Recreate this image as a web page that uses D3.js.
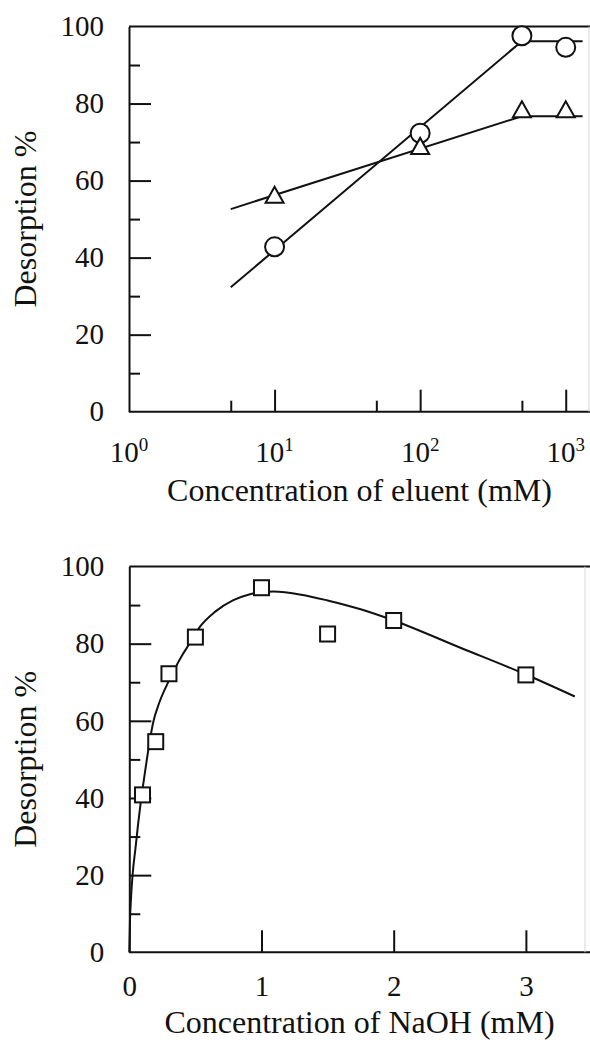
<!DOCTYPE html>
<html lang="en">
<head>
<meta charset="utf-8">
<title>Desorption</title>
<script src="https://d3js.org/d3.v7.min.js"></script>
<style>
  body { margin: 0; background: #fff; }
  #chart text { font-family: "Liberation Serif", "Times New Roman", serif; fill: #111; }
</style>
</head>
<body>
<div id="chart"></div>
<script>
"use strict"

// top panel - desorption vs concentration of eluent (log scale)
var circleX = [10, 100, 500, 1000];
var circleY = [42.8, 72.3, 97.6, 94.6];
var triangleX = [10, 100, 500, 1000];
var triangleY = [56.3, 69, 78.5, 78.5];
var circleFitX = [5, 500, 1306];
var circleFitY = [32.3, 96.2, 96.2];
var triangleFitX = [5, 500, 1306];
var triangleFitY = [52.6, 76.7, 76.7];
var logMajorTicks = [10, 100, 1000];
var logMinorTicks = [5, 50, 500];
var logLabelExponents = [0, 1, 2, 3];

// bottom panel - desorption vs concentration of NaOH
var squareX = [0.1, 0.2, 0.3, 0.5, 1, 1.5, 2, 3];
var squareY = [40.8, 54.6, 72.2, 81.7, 94.5, 82.5, 86.0, 71.9];
var curveX = [0, 0.005, 0.013, 0.05, 0.086, 0.12, 0.151, 0.18, 0.23, 0.3, 0.4, 0.45, 0.535, 0.65, 0.787, 0.9, 1.0, 1.09, 1.3, 1.5, 1.75, 2.0, 2.5, 3.0, 3.37];
var curveY = [0, 8, 14, 28, 38.7, 47, 54, 59.5, 65, 70.4, 77, 79.7, 84.4, 88.3, 91.3, 92.7, 93.3, 93.5, 92.7, 91.2, 88.9, 86.0, 79.0, 72.0, 66.3];
var naohMajorTicks = [1, 2, 3];
var naohLabels = [0, 1, 2, 3];

// shared y axis
var yMajorTicks = [20, 40, 60, 80];
var yMinorTicks = [10, 30, 50, 70, 90];
var yLabels = [0, 20, 40, 60, 80, 100];

var W = 590, H = 1040;
var ink = "#111";

var svg = d3.select("#chart").append("svg")
  .attr("width", W)
  .attr("height", H);

function zip(xs, ys) { return xs.map(function (v, i) { return [v, ys[i]]; }); }

// y axis: ticks inward + labels + title
function drawYAxis(g, y, xLeft, titleY) {
  g.append("g")
    .attr("transform", "translate(" + xLeft + ",0)")
    .call(d3.axisRight(y).tickValues(yMajorTicks).tickSize(22).tickSizeOuter(0).tickFormat(""))
    .call(function (a) { a.selectAll("line, path").attr("stroke", ink).attr("stroke-width", 2); });
  g.append("g")
    .attr("transform", "translate(" + xLeft + ",0)")
    .call(d3.axisRight(y).tickValues(yMinorTicks).tickSize(11).tickFormat(""))
    .call(function (a) { a.select(".domain").remove(); a.selectAll("line").attr("stroke", ink).attr("stroke-width", 2); });
  var lab = g.append("g")
    .attr("transform", "translate(" + xLeft + ",0)")
    .call(d3.axisLeft(y).tickValues(yLabels).tickSize(0).tickPadding(25).tickFormat(d3.format("d")));
  lab.select(".domain").remove();
  lab.selectAll("text").attr("font-size", 29).attr("font-family", null);

  g.append("text")
    .attr("transform", "translate(36," + titleY + ") rotate(-90)")
    .attr("text-anchor", "middle")
    .attr("font-size", 32)
    .text("Desorption %");
}

function frame(g, x0, yTop, yBot, xRight) {
  g.append("line").attr("x1", x0).attr("x2", 590).attr("y1", yTop).attr("y2", yTop)
    .attr("stroke", ink).attr("stroke-width", 2);
  g.append("line").attr("x1", x0).attr("x2", 590).attr("y1", yBot).attr("y2", yBot)
    .attr("stroke", ink).attr("stroke-width", 2);
  g.append("line").attr("x1", xRight).attr("x2", xRight).attr("y1", yTop).attr("y2", yBot)
    .attr("stroke", "#d6d6d6").attr("stroke-width", 1);
}

/* ---------- top panel ---------- */
var panelA = svg.append("g");
var xLog = d3.scaleLog().domain([1, 1445]).range([129, 589]);
var yA = d3.scaleLinear().domain([0, 100]).range([411.7, 26.5]);

frame(panelA, 129, yA(100), yA(0), 589);

panelA.append("g")
  .attr("transform", "translate(0," + yA(0) + ")")
  .call(d3.axisTop(xLog).tickValues(logMajorTicks).tickSize(22).tickFormat(""))
  .call(function (a) { a.select(".domain").remove(); a.selectAll("line").attr("stroke", ink).attr("stroke-width", 2); });
panelA.append("g")
  .attr("transform", "translate(0," + yA(0) + ")")
  .call(d3.axisTop(xLog).tickValues(logMinorTicks).tickSize(11).tickFormat(""))
  .call(function (a) { a.select(".domain").remove(); a.selectAll("line").attr("stroke", ink).attr("stroke-width", 2); });

var logLab = panelA.append("g").selectAll("text")
  .data(logLabelExponents)
  .enter().append("text")
    .attr("x", function (e) { return xLog(Math.pow(10, e)); })
    .attr("y", yA(0) + 50)
    .attr("text-anchor", "middle")
    .attr("font-size", 29)
    .text("10");
logLab.append("tspan")
  .attr("dy", -11)
  .attr("font-size", 19)
  .text(function (e) { return e; });

drawYAxis(panelA, yA, 129, (yA(0) + yA(100)) / 2);

panelA.append("text")
  .attr("x", 359.5).attr("y", 501)
  .attr("text-anchor", "middle")
  .attr("font-size", 32)
  .text("Concentration of eluent (mM)");

var lineLog = d3.line()
  .x(function (d) { return xLog(d[0]); })
  .y(function (d) { return yA(d[1]); });

panelA.append("path").datum(zip(circleFitX, circleFitY))
  .attr("d", lineLog).attr("fill", "none").attr("stroke", ink).attr("stroke-width", 2);
panelA.append("path").datum(zip(triangleFitX, triangleFitY))
  .attr("d", lineLog).attr("fill", "none").attr("stroke", ink).attr("stroke-width", 2);

panelA.selectAll("circle.pt")
  .data(zip(circleX, circleY))
  .enter().append("circle")
    .attr("class", "pt")
    .attr("cx", function (d) { return xLog(d[0]); })
    .attr("cy", function (d) { return yA(d[1]); })
    .attr("r", 9.5)
    .attr("fill", "#fff").attr("stroke", ink).attr("stroke-width", 2);

panelA.selectAll("path.tri")
  .data(zip(triangleX, triangleY))
  .enter().append("path")
    .attr("class", "tri")
    .attr("transform", function (d) { return "translate(" + xLog(d[0]) + "," + yA(d[1]) + ")"; })
    .attr("d", "M-9,8L0,-8L9,8Z")
    .attr("fill", "#fff").attr("stroke", ink).attr("stroke-width", 2);

/* ---------- bottom panel ---------- */
var panelB = svg.append("g");
var xLin = d3.scaleLinear().domain([0, 3.485]).range([129.3, 590]);
var yB = d3.scaleLinear().domain([0, 100]).range([952.3, 566.5]);

frame(panelB, 129.3, yB(100), yB(0), 585);

panelB.append("g")
  .attr("transform", "translate(0," + yB(0) + ")")
  .call(d3.axisTop(xLin).tickValues(naohMajorTicks).tickSize(22).tickFormat(""))
  .call(function (a) { a.select(".domain").remove(); a.selectAll("line").attr("stroke", ink).attr("stroke-width", 2); });

var naohLab = panelB.append("g")
  .attr("transform", "translate(0," + yB(0) + ")")
  .call(d3.axisBottom(xLin).tickValues(naohLabels).tickSize(0).tickPadding(23).tickFormat(d3.format("d")));
naohLab.select(".domain").remove();
naohLab.selectAll("text").attr("font-size", 29).attr("font-family", null);

drawYAxis(panelB, yB, 129.3, (yB(0) + yB(100)) / 2);

panelB.append("text")
  .attr("x", 359.5).attr("y", 1033)
  .attr("text-anchor", "middle")
  .attr("font-size", 32)
  .text("Concentration of NaOH (mM)");

var curveLine = d3.line()
  .x(function (d) { return xLin(d[0]); })
  .y(function (d) { return yB(d[1]); })
  .curve(d3.curveMonotoneX);

panelB.append("path").datum(zip(curveX, curveY))
  .attr("d", curveLine).attr("fill", "none").attr("stroke", ink).attr("stroke-width", 2);

panelB.selectAll("rect.sq")
  .data(zip(squareX, squareY))
  .enter().append("rect")
    .attr("class", "sq")
    .attr("x", function (d) { return xLin(d[0]) - 7.5; })
    .attr("y", function (d) { return yB(d[1]) - 7.5; })
    .attr("width", 15).attr("height", 15)
    .attr("fill", "#fff").attr("stroke", ink).attr("stroke-width", 2);
</script>
</body>
</html>
